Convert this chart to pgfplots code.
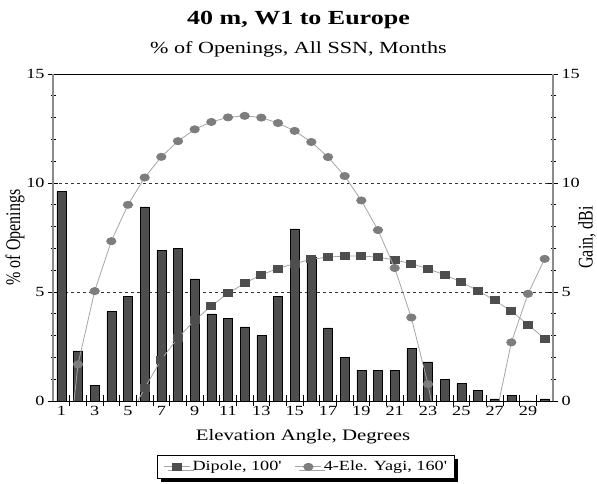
\documentclass[border=0pt]{standalone}
\usepackage{fontspec}
\setmainfont{Liberation Serif}[FakeStretch=1.3]
\newfontfamily\rotfont{Liberation Serif}
\usepackage{pgfplots}
\usepackage{pgfplotstable}
\pgfplotsset{compat=1.18}
\usetikzlibrary{shadows}

\definecolor{barc}{RGB}{78,78,78}
\definecolor{dipc}{RGB}{78,78,78}
\definecolor{yagc}{RGB}{125,125,125}
\definecolor{linec}{RGB}{165,165,165}
\definecolor{axc}{RGB}{140,140,140}

% elevation angle, % of openings, dipole gain, yagi gain (dBi)
\pgfplotstableread{
ang pct  dip   yagi
1   9.6  -14   -5.3
2   2.3  -9    1.68
3   0.7  -5.5  5.04
4   4.1  -3    7.33
5   4.8  -0.9  9.0
6   8.9  0.6   10.25
7   6.9  1.9   11.2
8   7.0  2.9   11.92
9   5.6  3.7   12.46
10  4.0  4.36  12.8
11  3.8  4.94  13.01
12  3.4  5.4   13.08
13  3.0  5.79  13.0
14  4.8  6.08  12.75
15  7.9  6.3   12.39
16  6.6  6.5   11.88
17  3.35 6.6   11.19
18  2.0  6.65  10.32
19  1.4  6.65  9.2
20  1.4  6.6   7.84
21  1.4  6.47  6.1
22  2.4  6.3   3.83
23  1.8  6.06  0.77
24  1.0  5.79  -3.1
25  0.8  5.45  -12
26  0.5  5.06  -5
27  0.1  4.62  -0.95
28  0.27 4.12  2.69
29  0    3.5   4.92
30  0.1  2.86  6.52
}\data

\pgfplotsset{
  yaxis/.style={
    at={(53pt,83pt)}, anchor=south west,
    scale only axis, width=500pt, height=327pt,
    xmin=0.5, xmax=30.5, ymin=0, ymax=15,
    axis x line=none,
    y axis line style={axc, line width=1.6pt},
    ytick={0,5,10,15}, minor y tick num=4,
    tick align=center,
    major tick length=10pt, minor tick length=5pt,
    tick style={black, line width=0.6pt},
    /pgf/number format/assume math mode=true,
    tick label style={font=\fontsize{14}{16}\selectfont},
  }
}

\begin{document}
\begin{tikzpicture}
\useasboundingbox (0,0) rectangle (597pt,484pt);

\begin{axis}[
    at={(53pt,83pt)}, anchor=south west,
    scale only axis, width=500pt, height=327pt,
    xmin=0.5, xmax=30.5, ymin=0, ymax=15,
    separate axis lines,
    x axis line style={black, line width=0.8pt},
    y axis line style={axc, line width=1.6pt},
    xtick={1,3,...,29},
    major x tick style={draw=none},
    minor xtick={1.5,2.5,...,29.5},
    xtick pos=left,
    ytick=\empty,
    tick align=center,
    minor tick length=11pt,
    tick style={black, line width=0.6pt},
    extra y ticks={5,10}, extra y tick labels={},
    extra y tick style={grid=major, major tick length=0pt},
    major grid style={black!80, dash pattern=on 3pt off 3pt, line width=0.6pt},
    /pgf/number format/assume math mode=true,
    tick label style={font=\fontsize{14}{16}\selectfont},
    clip marker paths=true,
    legend columns=2,
    legend style={at={(0.506,-0.165)}, anchor=north, draw=black, line width=0.6pt,
        font=\fontsize{14}{16}\selectfont, inner xsep=6pt, inner ysep=4pt,
        drop shadow={shadow xshift=3.5pt, shadow yshift=-3.5pt, fill=black, opacity=1},
        /tikz/every even column/.append style={column sep=12pt}},
    legend image code/.code={\draw[mark repeat=2,mark phase=2]
        plot coordinates {(0pt,0pt)(13pt,0pt)(26pt,0pt)};},
]
\addplot[ybar, bar width=9pt, fill=barc, draw=black, line width=0.5pt, forget plot]
    table[x=ang, y=pct] {\data};
\addplot[linec, line width=0.8pt, mark=square*, mark size=3.5pt,
    mark options={xscale=1.3, fill=dipc, draw=dipc}]
    table[x=ang, y=dip] {\data};
\addlegendentry{Dipole, 100\textquotesingle}
\addplot[linec, line width=0.8pt, mark=*, mark size=3.6pt,
    mark options={xscale=1.3, fill=yagc, draw=yagc}]
    table[x=ang, y=yagi] {\data};
\addlegendentry{4-Ele. Yagi, 160\textquotesingle}
\end{axis}

% left % of openings scale
\begin{axis}[yaxis, axis y line*=left]
\end{axis}
% right gain scale
\begin{axis}[yaxis, axis y line*=right]
\end{axis}

\node[font=\bfseries\fontsize{20}{24}\selectfont] at (298.5pt,464pt) {40 m, W1 to Europe};
\node[font=\fontsize{17}{20}\selectfont] at (298.5pt,435pt) {\% of Openings, All SSN, Months};
\node[font=\fontsize{16}{18}\selectfont] at (303pt,47pt) {Elevation Angle, Degrees};
\node[rotate=90, yscale=1.3, font=\rotfont\fontsize{16}{18}\selectfont] at (15pt,246.5pt) {\% of Openings};
\node[rotate=90, yscale=1.3, anchor=north, inner sep=0pt, font=\rotfont\fontsize{16}{18}\selectfont]
    at (578pt,246.5pt) {Gain, dBi};
\end{tikzpicture}
\end{document}
